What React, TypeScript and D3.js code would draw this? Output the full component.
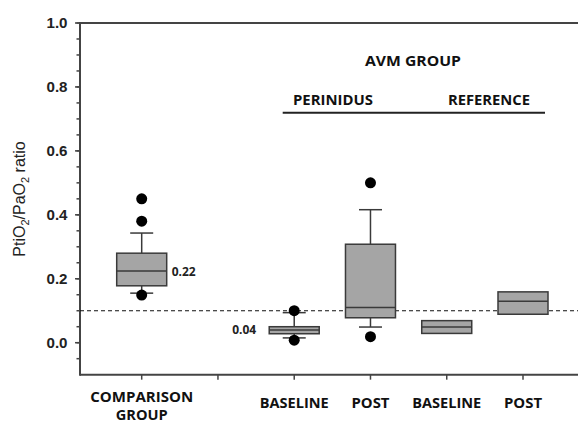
import React from "react";
import * as d3 from "d3";

const W = 578;
const H = 423;

// categories along x (index positions)
const categoryLabels: string[][] = [["COMPARISON", "GROUP"], [], ["BASELINE"], ["POST"], ["BASELINE"], ["POST"]];
const categoryIndex = [0, 1, 2, 3, 4, 5];

// box statistics
const boxPos = [0, 2, 3, 4, 5];
const q1 = [0.178, 0.028, 0.078, 0.029, 0.089];
const median = [0.224, 0.04, 0.11, 0.049, 0.13];
const q3 = [0.28, 0.05, 0.308, 0.069, 0.159];
const whiskerLow: (number | null)[] = [0.155, 0.015, 0.049, null, null];
const whiskerHigh: (number | null)[] = [0.343, 0.094, 0.416, null, null];
const outliers: number[][] = [[0.45, 0.38, 0.149], [0.1, 0.008], [0.5, 0.019], [], []];

const yMajor = [0, 0.2, 0.4, 0.6, 0.8, 1.0];
const yMinor = d3.range(-0.05, 1.0001, 0.05);
const refLine = 0.1;

const annotations = [
  { pos: 0, value: 0.224, text: "0.22", side: "right" },
  { pos: 2, value: 0.04, text: "0.04", side: "left" },
];

export default function App() {
  const x = d3.scaleLinear().domain([0, 5]).range([141.7, 523]);
  const y = d3.scaleLinear().domain([0, 1]).range([342.7, 23]);
  const left = 80;
  const right = 578;
  const bottom = y(-0.1);
  const top = y(1);
  const boxW = 50;
  const capW = 23;
  const stroke = "#3a3a3a";
  const catFont = "'Open Sans', Lato, sans-serif";
  const catWidths: Record<string, number> = { COMPARISON: 103, GROUP: 52, BASELINE: 69, POST: 38 };

  return (
    <svg width={W} height={H} style={{ position: "absolute", left: 0, top: 0, background: "#fff" }}>
      {/* frame lines */}
      <line x1={left} x2={right} y1={top} y2={top} stroke="#444" strokeWidth={2} />
      <line x1={left} x2={right} y1={bottom} y2={bottom} stroke="#444" strokeWidth={2} />
      <line x1={left} x2={left} y1={top - 1} y2={bottom + 1} stroke="#444" strokeWidth={2} />

      {/* y minor ticks */}
      {yMinor.map((v, i) => (
        <line key={"mi" + i} x1={left - 3.5} x2={left} y1={y(v)} y2={y(v)} stroke="#444" strokeWidth={1.5} />
      ))}
      {/* y major ticks + labels */}
      {yMajor.map((v) => (
        <g key={"ma" + v}>
          <line x1={left - 5} x2={left} y1={y(v)} y2={y(v)} stroke="#444" strokeWidth={1.5} />
          <text
            x={67.5}
            y={y(v) + 5}
            textAnchor="end"
            fontFamily="'Liberation Sans', Arial, sans-serif"
            fontWeight="bold"
            fontSize={14}
            fill="#222"
            textLength={21}
            lengthAdjust="spacingAndGlyphs"
          >
            {v.toFixed(1)}
          </text>
        </g>
      ))}

      {/* y axis title */}
      <text
        transform={`translate(25,199) rotate(-90)`}
        textAnchor="middle"
        fontFamily="'Liberation Sans', Arial, sans-serif"
        fontSize={16}
        fill="#222"
      >
        PtiO<tspan fontSize={11} dy={4}>2</tspan>
        <tspan dy={-4}>/PaO</tspan>
        <tspan fontSize={11} dy={4}>2</tspan>
        <tspan dy={-4}> ratio</tspan>
      </text>

      {/* x ticks */}
      {categoryIndex.map((c) => (
        <line key={"xt" + c} x1={x(c)} x2={x(c)} y1={bottom} y2={bottom + 5} stroke="#444" strokeWidth={1.5} />
      ))}
      {/* x labels */}
      {categoryIndex.map((c) =>
        categoryLabels[c].map((t, j) => (
          <text
            key={"xl" + c + j}
            x={x(c)}
            y={(categoryLabels[c].length > 1 ? 402 : 408) + j * 18}
            textAnchor="middle"
            fontFamily={catFont}
            fontWeight="bold"
            fontSize={categoryLabels[c].length > 1 ? 14 : 15}
            fill="#111"
            textLength={catWidths[t]}
            lengthAdjust="spacingAndGlyphs"
          >
            {t}
          </text>
        ))
      )}

      {/* reference dashed line */}
      <line x1={left} x2={right} y1={y(refLine)} y2={y(refLine)} stroke="#111" strokeWidth={1.2} strokeDasharray="4,3" />

      {/* boxes */}
      {boxPos.map((p, i) => {
        const cx = x(p);
        const wl = whiskerLow[i];
        const wh = whiskerHigh[i];
        return (
          <g key={"b" + i}>
            {wh !== null && (
              <g>
                <line x1={cx} x2={cx} y1={y(q3[i])} y2={y(wh)} stroke={stroke} strokeWidth={1.5} />
                <line x1={cx - capW / 2} x2={cx + capW / 2} y1={y(wh)} y2={y(wh)} stroke={stroke} strokeWidth={1.5} />
              </g>
            )}
            {wl !== null && (
              <g>
                <line x1={cx} x2={cx} y1={y(q1[i])} y2={y(wl)} stroke={stroke} strokeWidth={1.5} />
                <line x1={cx - capW / 2} x2={cx + capW / 2} y1={y(wl)} y2={y(wl)} stroke={stroke} strokeWidth={1.5} />
              </g>
            )}
            <rect
              x={cx - boxW / 2}
              y={y(q3[i])}
              width={boxW}
              height={y(q1[i]) - y(q3[i])}
              fill="#a5a5a5"
              stroke={stroke}
              strokeWidth={1.5}
            />
            <line x1={cx - boxW / 2} x2={cx + boxW / 2} y1={y(median[i])} y2={y(median[i])} stroke={stroke} strokeWidth={1.5} />
            {outliers[i].map((o, k) => (
              <circle key={k} cx={cx} cy={y(o)} r={5.5} fill="#000" />
            ))}
          </g>
        );
      })}

      {/* annotations */}
      {annotations.map((a, i) => (
        <text
          key={"an" + i}
          x={a.side === "right" ? x(a.pos) + boxW / 2 + 5 : x(a.pos) - boxW / 2 - 13}
          y={y(a.value) + 4.5}
          textAnchor={a.side === "right" ? "start" : "end"}
          fontFamily={catFont}
          fontWeight="bold"
          fontSize={12}
          fill="#222"
          textLength={24}
          lengthAdjust="spacingAndGlyphs"
        >
          {a.text}
        </text>
      ))}

      {/* group headers */}
      <text x={413} y={66} textAnchor="middle" fontFamily={catFont} fontWeight="bold" fontSize={14.5} fill="#111" textLength={96} lengthAdjust="spacingAndGlyphs">
        AVM GROUP
      </text>
      <text x={333} y={105} textAnchor="middle" fontFamily={catFont} fontWeight="bold" fontSize={14.5} fill="#111" textLength={80} lengthAdjust="spacingAndGlyphs">
        PERINIDUS
      </text>
      <text x={489} y={105} textAnchor="middle" fontFamily={catFont} fontWeight="bold" fontSize={14.5} fill="#111" textLength={82} lengthAdjust="spacingAndGlyphs">
        REFERENCE
      </text>
      <line x1={282.7} x2={545} y1={112.7} y2={112.7} stroke="#222" strokeWidth={2} />
    </svg>
  );
}
